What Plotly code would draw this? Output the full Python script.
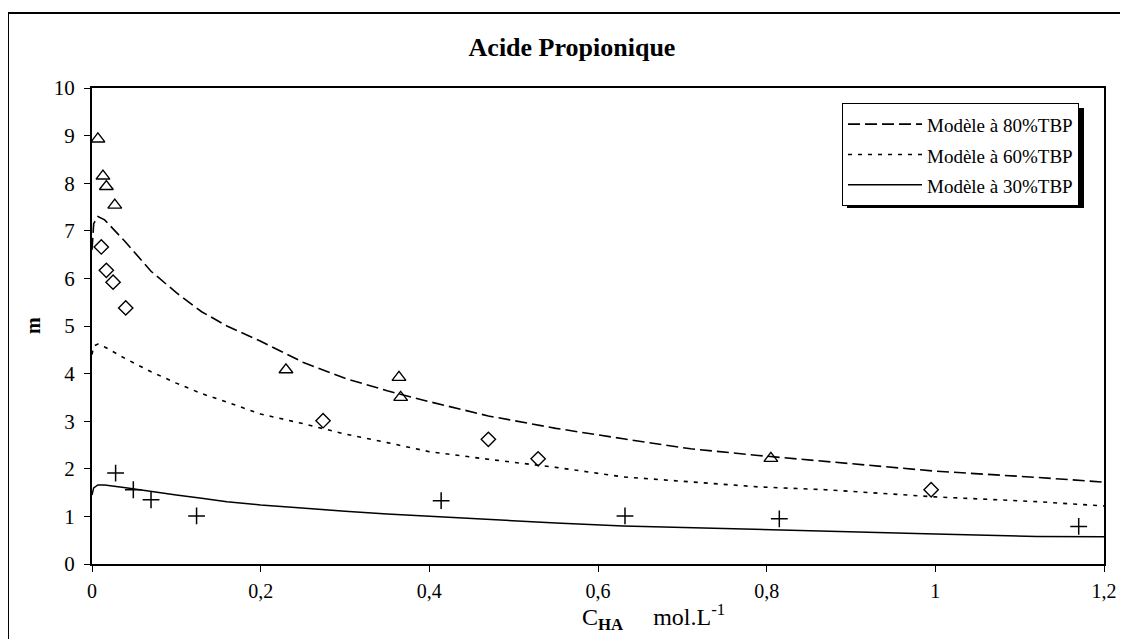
import plotly.graph_objects as go

# ---- data ----
x_model = [0, 0.002, 0.007, 0.015, 0.04, 0.07, 0.1, 0.13, 0.16, 0.2, 0.25, 0.3, 0.35, 0.4,
           0.47, 0.55, 0.63, 0.71, 0.79, 0.87, 1.0, 1.12, 1.2]
m80 = [6.6, 7.15, 7.3, 7.23, 6.76, 6.15, 5.7, 5.3, 5.0, 4.68, 4.24, 3.9, 3.64, 3.41,
       3.11, 2.85, 2.63, 2.42, 2.28, 2.15, 1.95, 1.82, 1.72]
m60 = [4.4, 4.58, 4.62, 4.56, 4.31, 4.04, 3.8, 3.58, 3.4, 3.15, 2.95, 2.73, 2.55, 2.36,
       2.2, 2.03, 1.83, 1.73, 1.62, 1.56, 1.41, 1.31, 1.22]
m30 = [1.45, 1.6, 1.66, 1.66, 1.6, 1.52, 1.45, 1.38, 1.31, 1.24, 1.17, 1.11, 1.05, 1.0,
       0.93, 0.86, 0.8, 0.76, 0.73, 0.69, 0.63, 0.58, 0.57]

tri_x = [0.007, 0.013, 0.017, 0.027, 0.230, 0.364, 0.366, 0.805]
tri_y = [8.93, 8.15, 7.93, 7.54, 4.08, 3.92, 3.50, 2.22]
dia_x = [0.011, 0.017, 0.025, 0.040, 0.274, 0.470, 0.529, 0.995]
dia_y = [6.66, 6.17, 5.92, 5.38, 3.01, 2.62, 2.21, 1.56]
plus_x = [0.028, 0.049, 0.070, 0.124, 0.414, 0.632, 0.815, 1.170]
plus_y = [1.91, 1.56, 1.35, 1.01, 1.33, 1.01, 0.95, 0.79]

x_tickvals = [0, 0.2, 0.4, 0.6, 0.8, 1.0, 1.2]
x_ticktext = ["0", "0,2", "0,4", "0,6", "0,8", "1", "1,2"]
y_tickvals = [0, 1, 2, 3, 4, 5, 6, 7, 8, 9, 10]
y_ticktext = ["0", "1", "2", "3", "4", "5", "6", "7", "8", "9", "10"]

legend_names = ["Modèle à 80%TBP", "Modèle à 60%TBP", "Modèle à 30%TBP"]

# ---- layout geometry (page pixels; the page body has an 8px margin) ----
OFF = 8
W, H = 1128 - OFF, 639 - OFF
L, R, T, B = 92, 1104, 88, 564
pw, ph = R - L, B - T


def px(x):
    return (x - L) / pw


def py(y):
    return (B - y) / ph


FONT = "Liberation Serif"
fig = go.Figure()

span = "<span style='font-size:19px'>{}</span>"
fig.add_trace(go.Scatter(x=x_model, y=m80, mode="lines", name=span.format(legend_names[0]),
                         line=dict(color="black", width=1.6, dash="12px,5px")))
fig.add_trace(go.Scatter(x=x_model, y=m60, mode="lines", name=span.format(legend_names[1]),
                         line=dict(color="black", width=1.6, dash="4px,6px")))
fig.add_trace(go.Scatter(x=x_model, y=m30, mode="lines", name=span.format(legend_names[2]),
                         line=dict(color="black", width=1.5)))

fig.add_trace(go.Scatter(x=tri_x, y=tri_y, mode="markers", showlegend=False,
                         marker=dict(symbol="triangle-up-open", size=12, color="black",
                                     line=dict(color="black", width=1.4))))
fig.add_trace(go.Scatter(x=dia_x, y=dia_y, mode="markers", showlegend=False,
                         marker=dict(symbol="diamond-open", size=11, color="black",
                                     line=dict(color="black", width=1.4))))
fig.add_trace(go.Scatter(x=plus_x, y=plus_y, mode="markers", showlegend=False,
                         marker=dict(symbol="cross-thin-open", size=12, color="black",
                                     line=dict(color="black", width=1.5))))

fig.update_layout(
    width=W, height=H,
    margin=dict(l=L - OFF, r=W - (R - OFF), t=T - OFF, b=H - (B - OFF), autoexpand=False),
    paper_bgcolor="white", plot_bgcolor="white",
    font=dict(family=FONT, color="black", size=19),
    separators=", ",
    title=dict(text="<b>Acide Propionique</b>", x=(572 - OFF) / W, xanchor="center",
               y=1 - (47 - OFF) / H, yanchor="middle", yref="container",
               font=dict(family=FONT, size=26, color="black")),
    xaxis=dict(range=[0, 1.2], tickvals=x_tickvals, ticktext=x_ticktext,
               showgrid=False, zeroline=False, showline=True, linecolor="black", linewidth=2,
               mirror=True, ticks="outside", ticklen=6, tickwidth=1.2, tickcolor="black",
               ticklabelstandoff=2,
               tickfont=dict(family=FONT, size=20), fixedrange=True),
    yaxis=dict(range=[0, 10], tickvals=y_tickvals, ticktext=y_ticktext,
               showgrid=False, zeroline=False, showline=True, linecolor="black", linewidth=2,
               mirror=True, ticks="outside", ticklen=6, tickwidth=1.2, tickcolor="black",
               ticklabelstandoff=5,
               tickfont=dict(family=FONT, size=21), fixedrange=True),
    legend=dict(x=px(842), y=py(103), xanchor="left", yanchor="top",
                bgcolor="white", bordercolor="black", borderwidth=1,
                font=dict(family=FONT, size=21, color="black"),
                itemwidth=74, tracegroupgap=0),
    showlegend=True,
)

# legend drop shadow
fig.add_shape(type="rect", xref="paper", yref="paper",
              x0=px(847), x1=px(1084), y0=py(208), y1=py(108),
              fillcolor="black", line=dict(width=0), layer="above")

# outer frame
fig.add_shape(type="rect", xref="paper", yref="paper",
              x0=px(8), x1=px(1140), y0=py(650), y1=py(13),
              line=dict(color="black", width=2), fillcolor="rgba(0,0,0,0)", layer="above")

# axis titles
fig.add_annotation(text="<b>m</b>", xref="paper", yref="paper", x=px(33), y=py(326),
                   textangle=-90, showarrow=False, font=dict(family=FONT, size=20),
                   xanchor="center", yanchor="middle")
fig.add_annotation(text="C<sub><b>HA</b></sub>     mol.L<sup>-1</sup>", xref="paper", yref="paper",
                   x=px(580), y=py(617), showarrow=False, font=dict(family=FONT, size=24),
                   xanchor="left", yanchor="middle")

fig.write_html("out.html")
